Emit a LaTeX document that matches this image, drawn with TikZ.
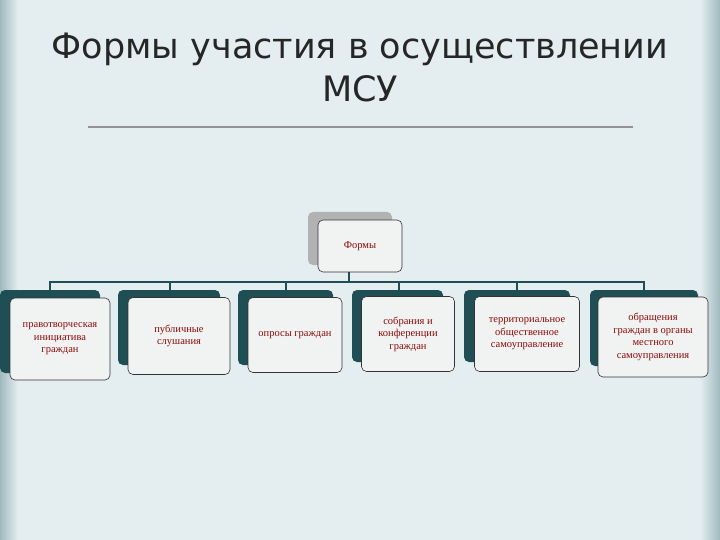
\documentclass[tikz,border=0pt]{standalone}
\usepackage{fontspec}
\setmainfont{Liberation Serif}
\newfontfamily\titlefont{DejaVu Sans}
\definecolor{bgc}{HTML}{E4EEF0}
\definecolor{stripc}{HTML}{9FB9BF}
\definecolor{teal}{HTML}{1F4F55}
\definecolor{txt}{HTML}{8B0A0A}
\definecolor{fillc}{HTML}{F1F3F3}
\tikzset{
  back/.style={fill=teal, rounded corners=5pt},
  backgray/.style={fill=gray!60, rounded corners=5pt},
  front/.style={draw=black!80, fill=fillc, rounded corners=5pt, line width=0.6pt},
  lbl/.style={text=txt, font=\fontsize{10.5}{12.5}\selectfont, align=center},
  conn/.style={draw=teal, line width=1.6pt}
}
\begin{document}
\begin{tikzpicture}[x=1pt,y=-1pt]
\useasboundingbox (0,0) rectangle (720,540);
\fill[bgc] (0,0) rectangle (720,540);
\fill[left color=stripc, right color=bgc] (0,0) rectangle (18,540);
\fill[left color=bgc, right color=stripc] (700,0) rectangle (720,540);
\node[font=\titlefont\fontsize{35}{43}\selectfont, align=center, text=black!85] (title) at (360,67) {Формы участия в осуществлении\\МСУ};
\draw[line width=2.5pt, draw=gray!85] (88,127) -- (633,127);
% top box
\fill[backgray] (308,212) rectangle (392,265);
\node[front, minimum width=84pt, minimum height=52pt, lbl] (top) at (360,246) {Формы};
% boxes: back, front
\fill[back] (0,290) rectangle (100,373);
\node[front, minimum width=100pt, minimum height=82pt, lbl] (b1) at (60,339) {правотворческая\\инициатива\\граждан};
\fill[back] (118,290) rectangle (220,365);
\node[front, minimum width=102pt, minimum height=77pt, lbl] (b2) at (179,336) {публичные\\слушания};
\fill[back] (238,290) rectangle (333,365);
\node[front, minimum width=94pt, minimum height=75pt, lbl] (b3) at (295,335) {опросы граждан};
\fill[back] (352,290) rectangle (443,362);
\node[front, minimum width=93pt, minimum height=75pt, lbl] (b4) at (408,334) {собрания и\\конференции\\граждан};
\fill[back] (464,290) rectangle (570,362);
\node[front, minimum width=105pt, minimum height=75pt, lbl] (b5) at (527,334) {территориальное\\общественное\\самоуправление};
\fill[back] (590,290) rectangle (698,366);
\node[front, minimum width=110pt, minimum height=80pt, lbl] (b6) at (653,337) {обращения\\граждан в органы\\местного\\самоуправления};
% connectors
\coordinate (h) at (349,282);
\draw[conn] (349,272) -- (h);
\draw[conn] (50,290) |- (644,282) -- (644,290);
\foreach \x in {170,286,399,517} \draw[conn] (\x,282) -- (\x,290);
\end{tikzpicture}
\end{document}
